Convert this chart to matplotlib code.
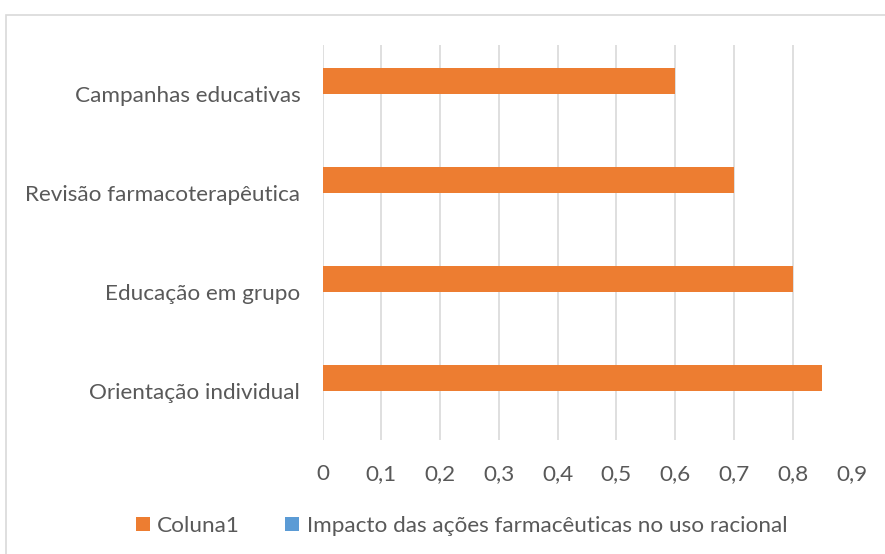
import matplotlib
matplotlib.use("Agg")
import matplotlib.pyplot as plt
import numpy as np
from matplotlib.patches import Rectangle

categories = ["Orientação individual", "Educação em grupo", "Revisão farmacoterapêutica", "Campanhas educativas"]
coluna1 = [0.85, 0.8, 0.7, 0.6]
impacto = [0, 0, 0, 0]
series_names = ["Coluna1", "Impacto das ações farmacêuticas no uso racional"]
xticks = [0, 0.1, 0.2, 0.3, 0.4, 0.5, 0.6, 0.7, 0.8, 0.9]
xtick_labels = ["0", "0,1", "0,2", "0,3", "0,4", "0,5", "0,6", "0,7", "0,8", "0,9"]

plt.rcParams['font.family'] = ['Lato', 'DejaVu Sans']
text_color = "#595959"
fs = 16.2

W, H = 885, 554
fig = plt.figure(figsize=(W/100, H/100), dpi=100)
fig.patches.append(Rectangle((6/W, -0.01), 1, 1.01 - 15/H, transform=fig.transFigure,
                             fill=False, edgecolor="#D9D9D9", linewidth=1.2))
ax = fig.add_axes([322.5/W, 1 - 440/H, (851.5-322.5)/W, (440-45)/H])

y = np.arange(len(categories))
h = 0.263
ax.barh(y + h/2, coluna1, height=h, color="#ED7D31", label=series_names[0], zorder=3)
ax.barh(y - h/2, impacto, height=h, color="#5B9BD5", label=series_names[1], zorder=3)

ax.set_xlim(0, 0.9)
ax.set_ylim(-0.5, len(categories) - 0.5)
ax.set_yticks(y)
ax.set_yticklabels(categories, fontsize=fs, color=text_color)
ax.set_xticks(xticks)
ax.set_xticklabels(xtick_labels, fontsize=fs, color=text_color)
ax.tick_params(axis='both', length=0)
ax.tick_params(axis='y', pad=16)
ax.tick_params(axis='x', pad=17)
ax.grid(axis='x', color="#D9D9D9", linewidth=1.2, zorder=0)
for s in ax.spines.values():
    s.set_visible(False)

leg = fig.legend(loc='center left', bbox_to_anchor=(136/W, 1 - 526/H), ncol=2, frameon=False,
                 fontsize=fs, handlelength=0.6, handleheight=0.6, handletextpad=0.35,
                 columnspacing=2.0, borderpad=0, borderaxespad=0)
for t in leg.get_texts():
    t.set_color(text_color)

fig.savefig("out.png", dpi=100)
